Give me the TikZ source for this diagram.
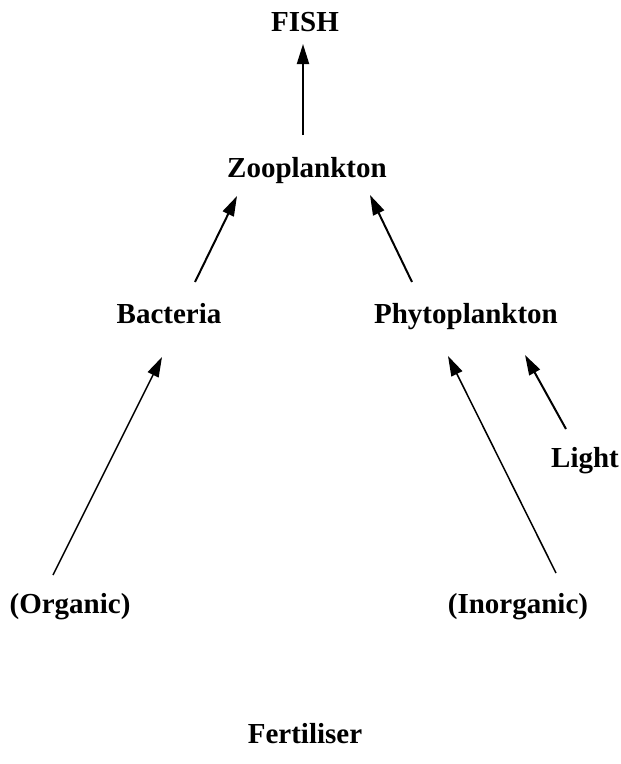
\documentclass[tikz,border=0pt]{standalone}
\usepackage{fontspec}
\setmainfont{Liberation Serif}
\usetikzlibrary{arrows.meta}
\begin{document}
\begin{tikzpicture}[x=1pt,y=-1pt,
  lbl/.style={font=\bfseries\fontsize{29}{33}\selectfont, anchor=base, inner sep=0pt},
  arr/.style={line width=2pt, -{Triangle[length=20pt,width=12pt]}},
  arrthin/.style={line width=1.5pt, -{Triangle[length=20pt,width=12pt]}}]
\useasboundingbox (0,0) rectangle (621,764);
\node[lbl] (fish) at (305,31) {FISH};
\node[lbl] (zoo) at (307,177) {Zooplankton};
\node[lbl] (bac) at (169,323) {Bacteria};
\node[lbl] (phy) at (466,323) {Phytoplankton};
\node[lbl] (light) at (585,467) {Light};
\node[lbl] (org) at (70,613) {(Organic)};
\node[lbl] (inorg) at (518,613) {(Inorganic)};
\node[lbl] (fert) at (305,743) {Fertiliser};
\coordinate (zooTop) at (303,135);
\coordinate (fishBot) at (303,44);
\coordinate (bacTop) at (195,282);
\coordinate (zooBL) at (237,196);
\coordinate (phyTop) at (412,282);
\coordinate (zooBR) at (370,195);
\coordinate (orgTop) at (53,575);
\coordinate (bacBot) at (162,357);
\coordinate (inorgTop) at (556,573);
\coordinate (phyBL) at (448,356);
\coordinate (lightTop) at (566,429);
\coordinate (phyBR) at (525,355);
\draw[arr] (zooTop) -- (fishBot);
\draw[arr] (bacTop) -- (zooBL);
\draw[arr] (phyTop) -- (zooBR);
\draw[arrthin] (orgTop) -- (bacBot);
\draw[arrthin] (inorgTop) -- (phyBL);
\draw[arr] (lightTop) -- (phyBR);
\end{tikzpicture}
\end{document}
